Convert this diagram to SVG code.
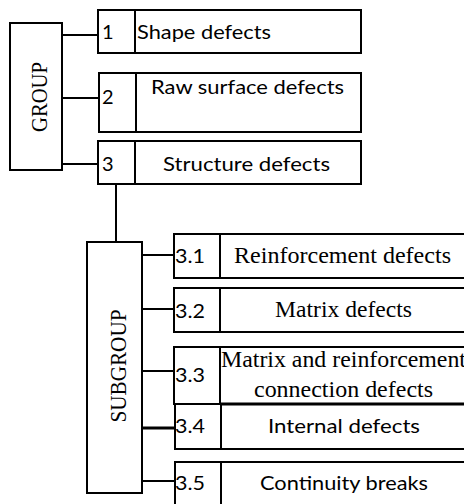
<svg xmlns="http://www.w3.org/2000/svg" width="464" height="504" viewBox="0 0 464 504">
<style>
rect, line { fill: #fff; stroke: #000; stroke-width: 2; }
line { fill: none; }
.s { font-family: Lato, "Liberation Sans", sans-serif; font-size: 20px; fill: #000; }
.r { font-family: "Liberation Serif", "Times New Roman", serif; font-size: 23px; fill: #000; }
</style>
<rect width="464" height="504" style="fill:#fff;stroke:none"/>
<g id="connectors">
  <line x1="62" y1="35" x2="98" y2="35"/>
  <line x1="62" y1="98" x2="99" y2="98"/>
  <line x1="62" y1="164" x2="98" y2="164"/>
  <line x1="116" y1="184" x2="116" y2="242"/>
  <line x1="142" y1="255" x2="174" y2="255"/>
  <line x1="142" y1="309" x2="174" y2="309"/>
  <line x1="142" y1="371" x2="174" y2="371"/>
  <line x1="142" y1="428" x2="175" y2="428" style="stroke-width:3"/>
  <line x1="142" y1="481" x2="175" y2="481"/>
</g>
<g id="group">
  <rect x="10" y="23" width="52" height="147"/>
  <text class="r" transform="translate(47,97) rotate(-90)" text-anchor="middle" textLength="70" lengthAdjust="spacingAndGlyphs">GROUP</text>
</g>
<g id="n1">
  <rect x="98" y="10" width="263" height="43"/>
  <line x1="135" y1="10" x2="135" y2="53"/>
  <text class="s" x="102" y="39">1</text>
  <text class="s" x="137" y="39" textLength="134" lengthAdjust="spacingAndGlyphs">Shape defects</text>
</g>
<g id="n2">
  <rect x="99" y="73" width="262" height="59"/>
  <line x1="136" y1="73" x2="136" y2="132"/>
  <text class="s" x="102" y="104">2</text>
  <text class="s" x="151" y="94" textLength="193" lengthAdjust="spacingAndGlyphs">Raw surface defects</text>
</g>
<g id="n3">
  <rect x="98" y="141" width="263" height="43"/>
  <line x1="135" y1="141" x2="135" y2="184"/>
  <text class="s" x="102" y="171">3</text>
  <text class="s" x="163" y="171" textLength="167" lengthAdjust="spacingAndGlyphs">Structure defects</text>
</g>
<g id="subgroup">
  <rect x="87" y="242" width="55" height="251"/>
  <text class="r" transform="translate(126,366) rotate(-90)" text-anchor="middle" textLength="113" lengthAdjust="spacingAndGlyphs">SUBGROUP</text>
</g>
<g id="n31">
  <rect x="174" y="234" width="296" height="44"/>
  <line x1="220" y1="234" x2="220" y2="278"/>
  <text class="s" x="175" y="263" textLength="30" lengthAdjust="spacingAndGlyphs">3.1</text>
  <text class="r" x="234" y="263" textLength="217" lengthAdjust="spacingAndGlyphs">Reinforcement defects</text>
</g>
<g id="n32">
  <rect x="174" y="288" width="296" height="44"/>
  <line x1="220" y1="288" x2="220" y2="332"/>
  <text class="s" x="175" y="318" textLength="30" lengthAdjust="spacingAndGlyphs">3.2</text>
  <text class="r" x="275" y="317" textLength="137" lengthAdjust="spacingAndGlyphs">Matrix defects</text>
</g>
<g id="n33">
  <rect x="174" y="347" width="296" height="57"/>
  <line x1="220" y1="347" x2="220" y2="404"/>
  <text class="s" x="175" y="382" textLength="30" lengthAdjust="spacingAndGlyphs">3.3</text>
  <text class="r" x="221" y="367" textLength="245" lengthAdjust="spacingAndGlyphs">Matrix and reinforcement</text>
  <text class="r" x="254" y="397" textLength="179" lengthAdjust="spacingAndGlyphs">connection defects</text>
</g>
<g id="n34">
  <rect x="175" y="404" width="295" height="45"/>
  <line x1="221" y1="404" x2="221" y2="449"/>
  <line x1="221" y1="404" x2="470" y2="404" style="stroke-width:3"/>
  <text class="s" x="175" y="433" textLength="30" lengthAdjust="spacingAndGlyphs">3.4</text>
  <text class="s" x="268" y="433" textLength="152" lengthAdjust="spacingAndGlyphs">Internal defects</text>
</g>
<g id="n35">
  <rect x="175" y="462" width="295" height="50"/>
  <line x1="221" y1="462" x2="221" y2="512"/>
  <text class="s" x="175" y="490" textLength="30" lengthAdjust="spacingAndGlyphs">3.5</text>
  <text class="s" x="260" y="490" textLength="168" lengthAdjust="spacingAndGlyphs">Continuity breaks</text>
</g>
</svg>
